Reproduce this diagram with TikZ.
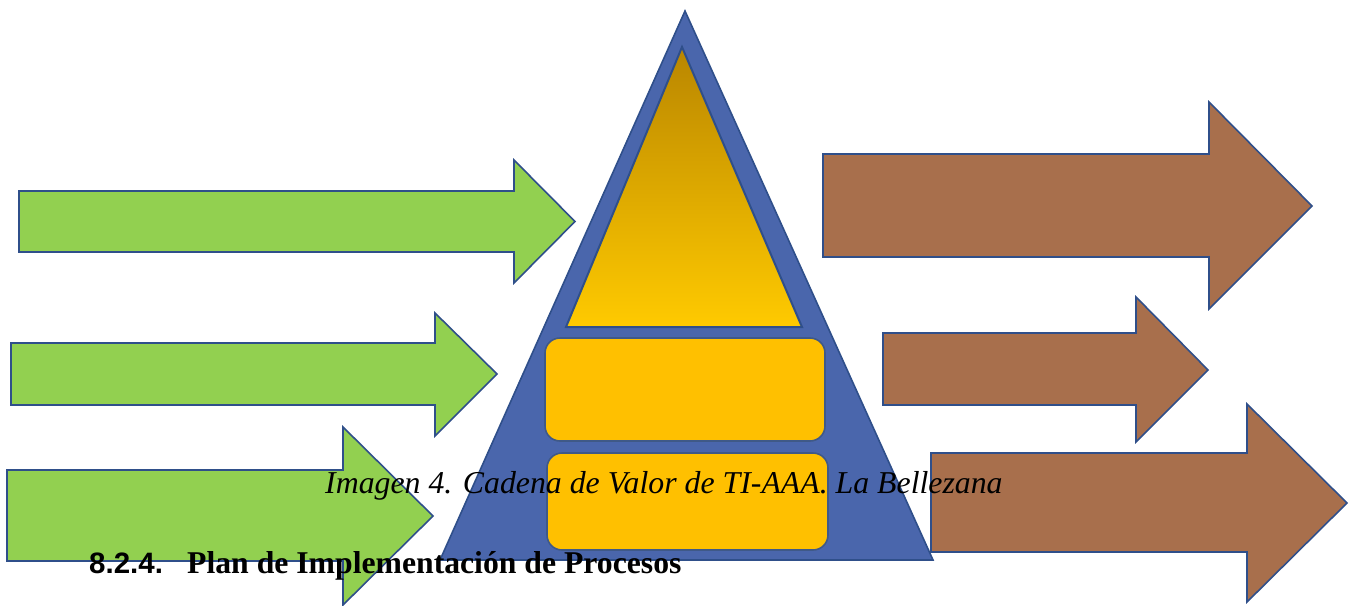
\documentclass[tikz,border=0pt]{standalone}
\usepackage{fontspec}
\setmainfont{Liberation Serif}
\newfontfamily\arialfont{Liberation Sans}
\definecolor{triblue}{HTML}{4A66AC}
\definecolor{edgeblue}{HTML}{2F4F8A}
\definecolor{arrgreen}{HTML}{92D050}
\definecolor{arrbrown}{HTML}{A86F4C}
\definecolor{boxorange}{HTML}{FFC000}
\definecolor{goldtop}{HTML}{B98600}
\definecolor{goldbot}{HTML}{FFCA00}
\tikzset{
  greenarrow/.style={fill=arrgreen, draw=edgeblue, line width=1.6pt, line join=miter},
  brownarrow/.style={fill=arrbrown, draw=edgeblue, line width=1.6pt, line join=miter},
  bigtri/.style={fill=triblue, draw=edgeblue, line width=1.6pt},
  toptri/.style={top color=goldtop, bottom color=goldbot, draw=edgeblue, line width=2pt},
  layerbox/.style={fill=boxorange, draw=edgeblue!80!gray, line width=1.6pt, rounded corners=15pt},
  captiontext/.style={font=\fontsize{31.8}{36}\selectfont\itshape, inner sep=0pt, anchor=base west},
  headtext/.style={inner sep=0pt, anchor=base west}
}
% #1 shaft left, #2 shaft top, #3 shaft bottom, #4 head base x, #5 head top, #6 head bottom, #7 tip x, #8 tip y
\newcommand{\blockarr}[9]{%
  \draw[#1] (#2,#3) -- (#5,#3) -- (#5,#6) -- (#8,#9) -- (#5,#7) -- (#5,#4) -- (#2,#4) -- cycle;}
\begin{document}
\begin{tikzpicture}[x=1pt,y=-1pt]
\useasboundingbox (0,0) rectangle (1349,605);
\clip (0,0) rectangle (1349,605);
% green input arrows
\blockarr{greenarrow}{19}{191}{252}{514}{160}{283}{575}{221.5}
\blockarr{greenarrow}{11}{343}{405}{435}{313}{436}{497}{374}
\blockarr{greenarrow}{7}{470}{561}{343}{427}{605}{433}{516}
% pyramid
\coordinate (apex) at (685,11);
\coordinate (bl) at (440,560);
\coordinate (br) at (933,560);
\draw[bigtri] (apex) -- (br) -- (bl) -- cycle;
\coordinate (iapex) at (682,47);
\coordinate (ibl) at (566,327);
\coordinate (ibr) at (802,327);
\draw[toptri] (iapex) -- (ibr) -- (ibl) -- cycle;
\draw[layerbox] (545,338) rectangle (825,441);
\draw[layerbox] (547,453) rectangle (828,550);
% brown output arrows
\blockarr{brownarrow}{823}{154}{257}{1209}{102}{309}{1312}{206}
\blockarr{brownarrow}{883}{333}{405}{1136}{297}{442}{1208}{370}
\blockarr{brownarrow}{931}{453}{552}{1247}{404}{602}{1347}{503}
% texts
\node[captiontext] (cap) at (325,493) {Imagen 4. Cadena de Valor de TI-AAA. La Bellezana};
\node[headtext, font=\arialfont\bfseries\fontsize{29.5}{34}\selectfont] (num) at (89,573) {8.2.4.};
\node[headtext, font=\bfseries\fontsize{31.7}{36}\selectfont] (title) at (187,573) {Plan de Implementación de Procesos};
\end{tikzpicture}
\end{document}
